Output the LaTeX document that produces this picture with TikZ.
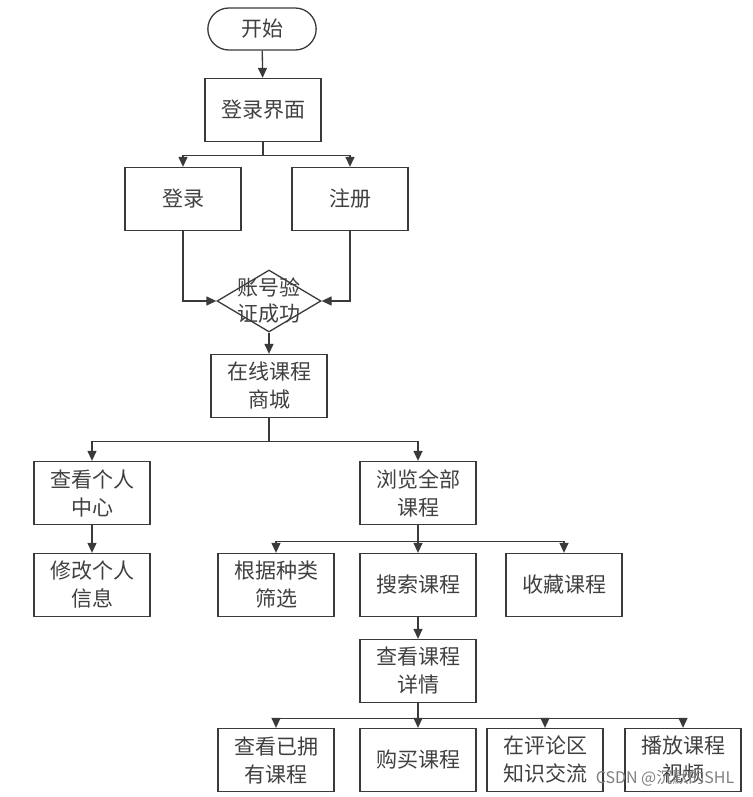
\documentclass[tikz,border=0pt]{standalone}
\usepackage{fontspec}
\newfontfamily\cjk{Noto Sans CJK SC}
\usetikzlibrary{arrows.meta, shapes.geometric, shapes.misc}
\definecolor{linegray}{HTML}{3A3A3A}
\definecolor{textgray}{HTML}{404040}

\begin{document}
\begin{tikzpicture}[
  x=1pt, y=-1pt,
  every node/.style={font=\cjk\fontsize{21}{28}\selectfont, text=textgray},
  box/.style={draw=linegray, line width=1.3pt, minimum width=116pt,
              minimum height=63pt, inner sep=2pt, align=center},
  arr/.style={draw=linegray, line width=1.3pt, -{Triangle[length=10pt, width=9pt]}},
  link/.style={draw=linegray, line width=1.3pt}
]
\useasboundingbox (0,0) rectangle (752,797);

% login part
\node[draw=linegray, line width=1.3pt, rounded rectangle,
      minimum width=115pt, minimum height=42pt] (start) at (262,29) {开始};
\node[box] (ui) at (263,110) {登录界面};
\node[box] (login) at (183,199) {登录};
\node[box] (reg) at (350,199) {注册};
\node[diamond, draw=linegray, line width=1.3pt, minimum width=104pt,
      minimum height=62pt, inner sep=0pt] (check) at (269,301) {};
\node[align=center, font=\cjk\fontsize{21}{26}\selectfont] (checktext) at (check) {账号验\\证成功};

% mall
\node[box] (mall) at (269,386) {在线课程\\商城};
\node[box] (me) at (92,493) {查看个人\\中心};
\node[box] (all) at (418,493) {浏览全部\\课程};
\node[box] (edit) at (92,585) {修改个人\\信息};
\node[box] (kind) at (276,585) {根据种类\\筛选};
\node[box] (search) at (418,585) {搜索课程};
\node[box] (fav) at (564,585) {收藏课程};
\node[box] (detail) at (418,671) {查看课程\\详情};

% course detail
\node[box] (owned) at (276,760) {查看已拥\\有课程};
\node[box] (buy) at (418,760) {购买课程};
\node[box] (talk) at (545,760) {在评论区\\知识交流};
\node[box] (play) at (683,760) {播放课程\\视频};

% watermark
\node[font=\cjk\fontsize{16}{18}\selectfont, text=gray] (mark) at (665,778) {CSDN @沉默的SHL};

% connectors
\draw[arr] (start) -- (ui);
\draw[link] (ui.south) -- ++(0,13) coordinate (s1);
\foreach \t in {login, reg} \draw[arr] (s1) -| (\t);
\draw[arr] (login) |- (check);
\draw[arr] (reg) |- (check);
\draw[arr] (check) -- (mall);
\draw[link] (mall.south) -- ++(0,23) coordinate (s2);
\foreach \t in {me, all} \draw[arr] (s2) -| (\t);
\draw[arr] (me) -- (edit);
\draw[link] (all.south) -- ++(0,16) coordinate (s3);
\foreach \t in {kind, search, fav} \draw[arr] (s3) -| (\t);
\draw[arr] (search) -- (detail);
\draw[link] (detail.south) -- ++(0,15) coordinate (s4);
\foreach \t in {owned, buy, talk, play} \draw[arr] (s4) -| (\t);
\end{tikzpicture}
\end{document}
